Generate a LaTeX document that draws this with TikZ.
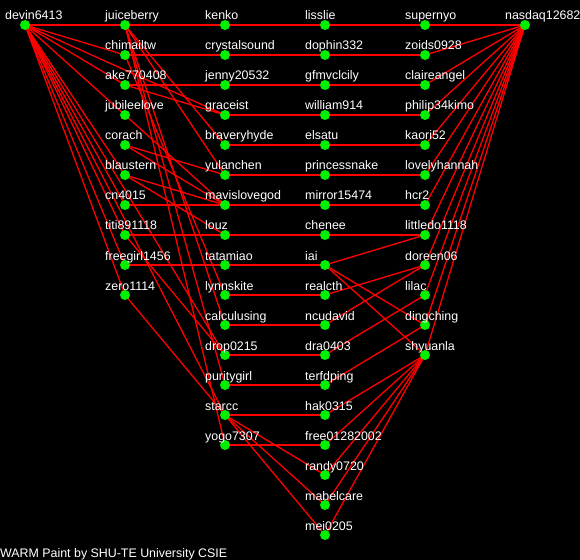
\documentclass[tikz,border=0pt]{standalone}
\usepackage{fontspec}
\setmainfont{Liberation Sans}
\definecolor{dotgreen}{RGB}{0,240,0}
\definecolor{edgered}{RGB}{255,0,0}
\begin{document}
\begin{tikzpicture}[x=1bp,y=-1bp,
  dot/.style={circle,fill=dotgreen,draw=none,inner sep=0pt,minimum size=10bp},
  lbl/.style={anchor=base west,inner sep=0pt,text=white,font=\fontsize{12.4bp}{14bp}\selectfont},
  edge/.style={edgered,line width=1.3bp}]
\useasboundingbox (0,0) rectangle (580,560);
\fill[black] (0,0) rectangle (580,560);
\clip (0,0) rectangle (580,560);
% ---------- positions ----------
\coordinate (devin) at (25,25);
\foreach \n/\y in {juiceberry/25,chimailtw/55,ake/85,jubilee/115,corach/145,blaustern/175,cn/205,titi/235,freegirl/265,zero/295}
  {\coordinate (\n) at (125,\y);}
\foreach \n/\y in {kenko/25,crystal/55,jenny/85,grace/115,bravery/145,yulan/175,mavis/205,louz/235,tatamiao/265,lynn/295,calc/325,drop/355,purity/385,starcc/415,yogo/445}
  {\coordinate (\n) at (225,\y);}
\foreach \n/\y in {lisslie/25,dophin/55,gfm/85,william/115,elsatu/145,princess/175,mirror/205,chenee/235,iai/265,realcth/295,ncu/325,dra/355,terf/385,hak/415,free/445,randy/475,mabel/505,mei/535}
  {\coordinate (\n) at (325,\y);}
\foreach \n/\y in {supernyo/25,zoids/55,claire/85,philip/115,kaori/145,lovely/175,hcr/205,littledo/235,doreen/265,lilac/295,ding/325,shyuan/355}
  {\coordinate (\n) at (425,\y);}
\coordinate (nasdaq) at (525,25);
% ---------- horizontal connectors ----------
\draw[edge] (devin) -- (juiceberry) -- (kenko) -- (lisslie) -- (supernyo) -- (nasdaq);
\draw[edge] (chimailtw) -- (crystal) -- (dophin) -- (zoids);
\draw[edge] (ake) -- (jenny) -- (gfm) -- (claire);
\draw[edge] (grace) -- (william) -- (philip);
\draw[edge] (bravery) -- (elsatu) -- (kaori);
\draw[edge] (yulan) -- (princess) -- (lovely);
\draw[edge] (cn) -- (mavis) -- (mirror) -- (hcr);
\draw[edge] (titi) -- (louz) -- (chenee) -- (littledo);
\draw[edge] (freegirl) -- (tatamiao) -- (iai);
\draw[edge] (lynn) -- (realcth);
\draw[edge] (calc) -- (ncu);
\draw[edge] (drop) -- (dra);
\draw[edge] (purity) -- (terf);
\draw[edge] (starcc) -- (hak);
\draw[edge] (yogo) -- (free);
% ---------- hub devin6413 ----------
\foreach \t in {chimailtw,ake,jubilee,blaustern,cn,titi,freegirl,zero,grace,drop,starcc}
  {\draw[edge] (devin) -- (\t);}
% ---------- hub nasdaq12682 ----------
\foreach \t in {zoids,claire,philip,kaori,lovely,hcr,littledo,doreen,lilac,ding,shyuan}
  {\draw[edge] (nasdaq) -- (\t);}
% ---------- other connectors ----------
\foreach \a/\b in {juiceberry/bravery,juiceberry/yulan,juiceberry/calc,juiceberry/purity,juiceberry/yogo,
  chimailtw/lynn,ake/grace,corach/yulan,corach/mavis,blaustern/mavis,blaustern/louz,jubilee/mavis,
  titi/drop,zero/starcc,starcc/randy,starcc/mabel,starcc/mei,
  iai/littledo,iai/ding,iai/shyuan,realcth/doreen,ncu/doreen,dra/lilac,terf/ding,
  hak/shyuan,free/shyuan,randy/shyuan,mabel/shyuan,mei/shyuan}
  {\draw[edge] (\a) -- (\b);}
% ---------- dots and labels ----------
\foreach \n/\t in {devin/devin6413,
  juiceberry/juiceberry,chimailtw/chimailtw,ake/ake770408,jubilee/jubileelove,corach/corach,blaustern/blaustern,cn/cn4015,titi/titi891118,freegirl/freegirl1456,zero/zero1114,
  kenko/kenko,crystal/crystalsound,jenny/jenny20532,grace/graceist,bravery/braveryhyde,yulan/yulanchen,mavis/mavislovegod,louz/louz,tatamiao/tatamiao,lynn/lynnskite,calc/calculusing,drop/drop0215,purity/puritygirl,starcc/starcc,yogo/yogo7307,
  lisslie/lisslie,dophin/dophin332,gfm/gfmvclcily,william/william914,elsatu/elsatu,princess/princessnake,mirror/mirror15474,chenee/chenee,iai/iai,realcth/realcth,ncu/ncudavid,dra/dra0403,terf/terfdping,hak/hak0315,free/free01282002,randy/randy0720,mabel/mabelcare,mei/mei0205,
  supernyo/supernyo,zoids/zoids0928,claire/claireangel,philip/philip34kimo,kaori/kaori52,lovely/lovelyhannah,hcr/hcr2,littledo/littledo1118,doreen/doreen06,lilac/lilac,ding/dingching,shyuan/shyuanla,
  nasdaq/nasdaq12682}
  {\node[dot] (\n-dot) at (\n) {};
   \node[lbl] (\n-lbl) at ([xshift=-20bp,yshift=5bp]\n) {\t};}
\node[lbl] (footer) at (0,557) {WARM Paint by SHU-TE University CSIE};
\end{tikzpicture}
\end{document}
